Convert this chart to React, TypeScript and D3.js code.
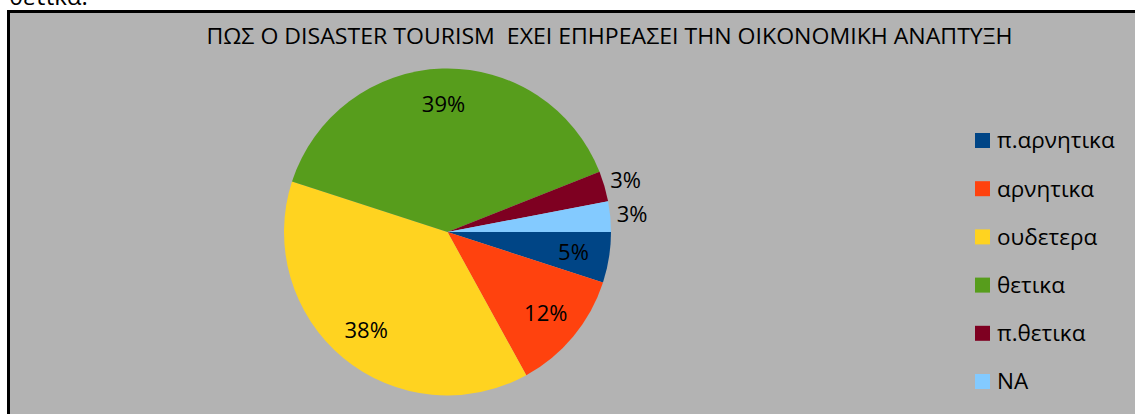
import React from "react";
import * as d3 from "d3";

const categories = ["π.αρνητικα", "αρνητικα", "ουδετερα", "θετικα", "π.θετικα", "NA"];
const values = [5, 12, 38, 39, 3, 3];
const colors = ["#004586", "#ff420e", "#ffd320", "#579d1c", "#7e0021", "#83caff"];
const title = "ΠΩΣ Ο DISASTER TOURISM  EXEI ΕΠΗΡΕΑΣΕΙ ΤΗΝ ΟΙΚΟΝΟΜΙΚΗ ΑΝΑΠΤΥΞΗ";
const aboveText = "θετικα.";

const W = 1135;
const H = 414;
const FONT = "'Open Sans', 'Noto Sans', sans-serif";

export default function App() {
  const cx = 447.5;
  const cy = 232;
  const R = 163.5;
  const total = d3.sum(values);
  const pie = d3
    .pie<number>()
    .sort(null)
    .value((d) => d)
    .startAngle(Math.PI / 2)
    .endAngle(Math.PI / 2 + 2 * Math.PI);
  const arcs = pie(values);
  const arc = d3.arc<d3.PieArcDatum<number>>().innerRadius(0).outerRadius(R);
  const inLabel = d3.arc<d3.PieArcDatum<number>>().innerRadius(R * 0.78).outerRadius(R * 0.78);
  const outLabel = d3.arc<d3.PieArcDatum<number>>().innerRadius(R + 22).outerRadius(R + 22);

  const legendY = d3
    .scalePoint<string>()
    .domain(categories)
    .range([140.5, 381.5]);

  return (
    <svg
      width={W}
      height={H}
      style={{ position: "absolute", left: 0, top: 0, display: "block" }}
      fontFamily={FONT}
    >
      <rect x={0} y={0} width={W} height={H} fill="#ffffff" />
      <text x={9} y={5} fontSize={24} fill="#000">
        {aboveText}
      </text>
      <rect x={8.5} y={11.5} width={1140} height={420} fill="#b3b3b3" stroke="#000" strokeWidth={3} />
      <text
        x={609.5}
        y={44}
        fontSize={21}
        textAnchor="middle"
        fill="#000"
        textLength={806}
        lengthAdjust="spacingAndGlyphs"
        style={{ whiteSpace: "pre" }}
      >
        {title}
      </text>
      <g transform={`translate(${cx},${cy})`}>
        {arcs.map((a, i) => (
          <path key={i} d={arc(a) || ""} fill={colors[i]} />
        ))}
        {arcs.map((a, i) => {
          const pct = (a.data / total) * 100;
          const [lx, ly] = pct < 4 ? outLabel.centroid(a) : inLabel.centroid(a);
          return (
            <text
              key={"l" + i}
              x={lx}
              y={ly}
              dy="0.35em"
              fontSize={22}
              textAnchor="middle"
              fill="#000"
            >
              {Math.round(pct) + "%"}
            </text>
          );
        })}
      </g>
      <g>
        {categories.map((c, i) => (
          <g key={c} transform={`translate(0,${legendY(c)})`}>
            <rect x={975} y={-7.5} width={15} height={15} fill={colors[i]} />
            <text x={997} y={0} dy="0.35em" fontSize={22.5} fill="#000">
              {c}
            </text>
          </g>
        ))}
      </g>
    </svg>
  );
}
